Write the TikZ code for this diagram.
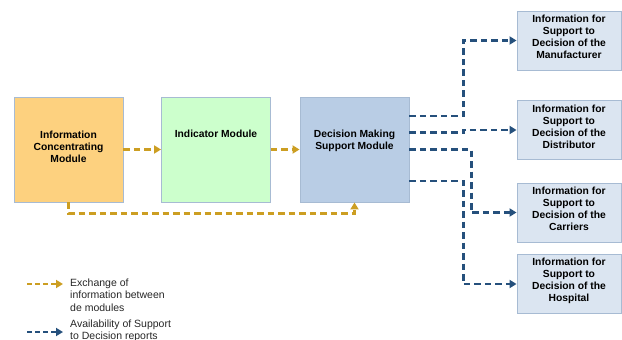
\documentclass[tikz,border=0pt]{standalone}
\usepackage{fontspec}
\setmainfont{Liberation Sans}
\usetikzlibrary{arrows.meta}
\definecolor{orangefill}{HTML}{FDD17F}
\definecolor{greenfill}{HTML}{CCFFCC}
\definecolor{dmsfill}{HTML}{B9CDE5}
\definecolor{outfill}{HTML}{DBE5F1}
\definecolor{boxline}{HTML}{A7BBD3}
\definecolor{goldline}{HTML}{CC9E22}
\definecolor{navyline}{HTML}{25507C}
\tikzset{
  module/.style={draw=boxline, line width=0.9pt, minimum width=109pt, minimum height=105pt, inner sep=0pt},
  outbox/.style={draw=boxline, line width=0.9pt, fill=outfill, minimum width=104pt, minimum height=59pt, inner sep=0pt},
  boxtext/.style={font=\fontsize{10.3}{12.2}\selectfont\bfseries, align=center, inner sep=0pt},
  legtext/.style={font=\fontsize{10.5}{12.5}\selectfont, align=left, anchor=north west, inner sep=0pt, text=black!85},
  exch/.style={draw=goldline, line width=2.9pt, dash pattern=on 6.5pt off 4pt, -{Triangle[length=7pt,width=8pt]}},
  avail/.style={draw=navyline, line width=2.9pt, dash pattern=on 6.5pt off 4pt, -{Triangle[length=7pt,width=8pt]}},
  legline/.style={line width=2.2pt, dash pattern=on 5pt off 3pt},
}
\begin{document}
\begin{tikzpicture}[x=1pt, y=-1pt]
  \useasboundingbox (0,0) rectangle (622,340);

  % main modules
  \node[module, fill=orangefill] (icm) at (68.5,149.5) {};
  \node[module, fill=greenfill]  (ind) at (216,149.5) {};
  \node[module, fill=dmsfill]    (dms) at (354.5,149.5) {};
  \node[boxtext] (icmt) at (68.5,147) {Information\\Concentrating\\Module};
  \node[boxtext] (indt) at (216,134) {Indicator Module};
  \node[boxtext] (dmst) at (354.5,141) {Decision Making\\Support Module};

  % decision reports
  \node[outbox] (m1) at (569,40.5) {};
  \node[outbox] (m2) at (569,130) {};
  \node[outbox] (m3) at (569,212.5) {};
  \node[outbox] (m4) at (569,284) {};
  \node[boxtext] (m1t) at (569,37) {Information for\\Support to\\Decision of the\\Manufacturer};
  \node[boxtext] (m2t) at (569,127) {Information for\\Support to\\Decision of the\\Distributor};
  \node[boxtext] (m3t) at (569,209) {Information for\\Support to\\Decision of the\\Carriers};
  \node[boxtext] (m4t) at (569,281) {Information for\\Support to\\Decision of the\\Hospital};

  % exchange between modules
  \draw[exch] (icm.east) -- (ind.west);
  \draw[exch] (ind.east) -- (dms.west);
  \draw[exch] (icm.south) -- ++(0,11) -| (dms.south);

  % availability of reports
  \draw[avail] ([yshift=33.5pt]dms.east) -- ++(54,0) |- (m1.west);
  \draw[avail] ([yshift=17pt]dms.east) -- ++(54,0) |- (m2.west);
  \draw[avail] (dms.east) -- ++(62,0) |- (m3.west);
  \draw[avail] ([yshift=-31.5pt]dms.east) -- ++(54,0) |- (m4.west);

  % legend
  \coordinate (la1) at (27,284);
  \coordinate (lb1) at (63,284);
  \coordinate (la2) at (27,332);
  \coordinate (lb2) at (63,332);
  \draw[exch, legline] (la1) -- (lb1);
  \draw[avail, legline] (la2) -- (lb2);
  \node[legtext] (lt1) at (70,278.5) {Exchange of\\information between\\de modules};
  \node[legtext] (lt2) at (70,319.5) {Availability of Support\\to Decision reports};
\end{tikzpicture}
\end{document}
